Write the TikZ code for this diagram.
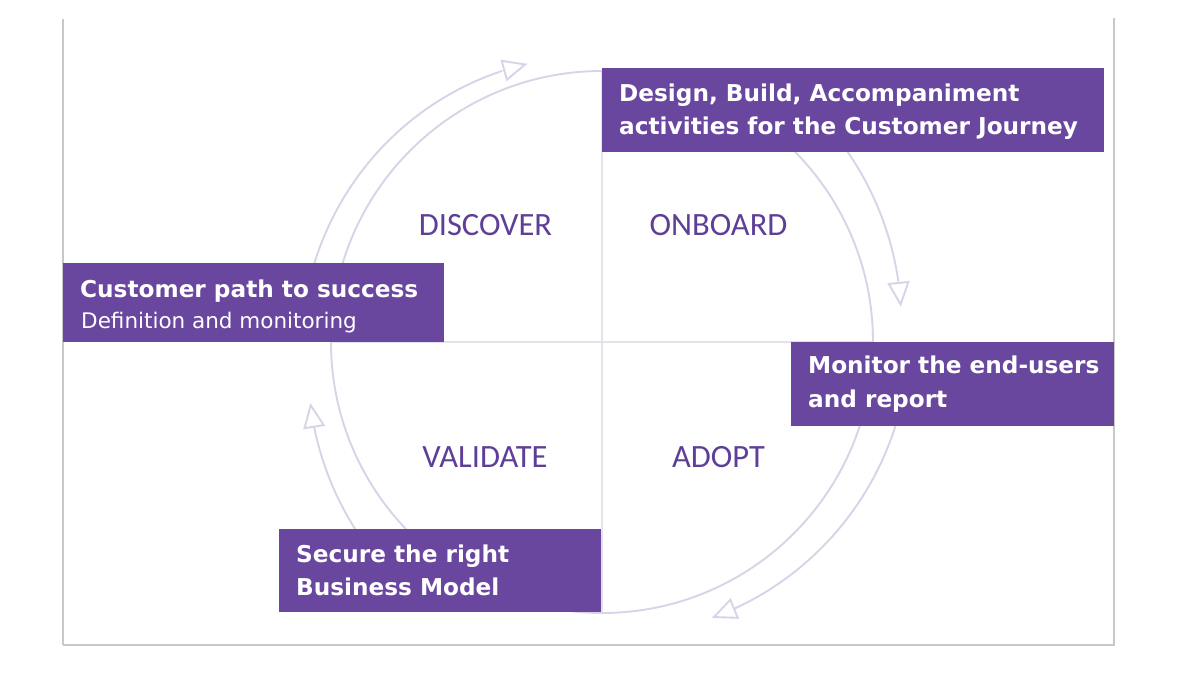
\documentclass[tikz,border=0pt]{standalone}
\usepackage{fontspec}
\setmainfont{DejaVu Sans}
\newfontfamily\phasefont{Carlito}
\usetikzlibrary{arrows.meta}
\definecolor{boxpurple}{HTML}{6A479F}
\definecolor{labpurple}{HTML}{5E3F97}
\definecolor{ringcol}{HTML}{D8D4E7}
\definecolor{crosscol}{HTML}{E3E1EA}
\definecolor{framecol}{HTML}{C8C8C8}
\begin{document}
\begin{tikzpicture}[x=1pt,y=1pt,
  pbox/.style={fill=boxpurple, draw=none, inner sep=0pt, anchor=north west},
  boxtitle/.style={text=white, inner sep=0pt, anchor=base west, font=\bfseries\fontsize{23.2}{33}\selectfont},
  boxsub/.style={text=white, inner sep=0pt, anchor=base west, font=\fontsize{21.5}{30}\selectfont},
  phase/.style={text=labpurple, inner sep=0pt, font=\phasefont\fontsize{32.5}{38}\selectfont},
  ring/.style={draw=ringcol, line width=1.9pt},
  cycarc/.style={draw=ringcol, line width=1.9pt},
  cyctip/.style={draw=ringcol, line width=1.9pt, -{Triangle[open, length=25pt, width=22pt, line width=1.9pt]}},
  crossline/.style={draw=crosscol, line width=1.5pt}]
\useasboundingbox (0,0) rectangle (1200,676);
\fill[white] (0,0) rectangle (1200,676);
% slide frame
\draw[framecol, line width=1.6pt] (63,657) -- (63,31);
\draw[framecol, line width=1.6pt] (1114,658) -- (1114,31);
\draw[framecol, line width=2.6pt] (63,31) -- (1114.8,31);
\coordinate (C) at (602,334);
% cross lines
\draw[crossline] (602,605) -- (602,63);
\draw[crossline] (331,334) -- (873,334);
% inner ring
\draw[ring] (C) circle[radius=271pt];
% outer cycle arrows (clockwise)
\draw[cycarc] plot[domain=178:110.2, samples=50, variable=\t]
  ({602+(300+12*(\t-175)/70)*cos(\t)}, {334+(300+12*(\t-175)/70)*sin(\t)});
\coordinate (tlb) at ({602+(300+12*(110-175)/70)*cos(110)}, {334+(300+12*(110-175)/70)*sin(110)});
\coordinate (tlt) at ({602+288*cos(105)}, {334+288*sin(105)});
\draw[cyctip] (tlb) -- (tlt);
\draw[cycarc] plot[domain=55:11.6, samples=50, variable=\t]
  ({602+(316+15*(\t-55)/48.3)*cos(\t)}, {334+(316+15*(\t-55)/48.3)*sin(\t)});
\coordinate (trb) at ({602+(316+15*(11.5-55)/48.3)*cos(11.5)}, {334+(316+15*(11.5-55)/48.3)*sin(11.5)});
\coordinate (trt) at ({602+301*cos(6.7)}, {334+301*sin(6.7)});
\draw[cyctip] (trb) -- (trt);
\draw[cycarc] plot[domain=-5:-63.5, samples=50, variable=\t]
  ({602+(307+10*(\t+5)/63.3)*cos(\t)}, {334+(307+10*(\t+5)/63.3)*sin(\t)});
\coordinate (brb) at ({602+(307+10*(-63.5+5)/63.3)*cos(-63.5)}, {334+(307+10*(-63.5+5)/63.3)*sin(-63.5)});
\coordinate (brt) at ({602+297*cos(-68.3)}, {334+297*sin(-68.3)});
\draw[cyctip] (brb) -- (brt);
\draw[cycarc] plot[domain=235:196.6, samples=50, variable=\t]
  ({602+(318+20*(\t-235)/43.2)*cos(\t)}, {334+(318+20*(\t-235)/43.2)*sin(\t)});
\coordinate (blb) at ({602+(318+20*(196.6-235)/43.2)*cos(196.6)}, {334+(318+20*(196.6-235)/43.2)*sin(196.6)});
\coordinate (blt) at ({602+298*cos(191.8)}, {334+298*sin(191.8)});
\draw[cyctip] (blb) -- (blt);
% phase labels
\node[phase] (discover) at (485.5,451) {DISCOVER};
\node[phase] (onboard) at (718.5,451) {ONBOARD};
\node[phase] (validate) at (485,219) {VALIDATE};
\node[phase] (adopt) at (718.5,219) {ADOPT};
% purple boxes
\node[pbox, minimum width=502pt, minimum height=84pt] (btop) at (602,608) {};
\node[pbox, minimum width=381pt, minimum height=79pt] (bleft) at (63,413) {};
\node[pbox, minimum width=323pt, minimum height=84pt] (bright) at (791,334) {};
\node[pbox, minimum width=322pt, minimum height=83pt] (bbottom) at (279,147) {};
% box texts
\node[boxtitle] (t1) at (619,574) {Design, Build, Accompaniment};
\node[boxtitle] (t2) at (619,541) {activities for the Customer Journey};
\node[boxtitle] (l1) at (80,378) {Customer path to success};
\node[boxsub] (l2) at (81,347) {Definition and monitoring};
\node[boxtitle] (r1) at (808,302) {Monitor the end-users};
\node[boxtitle] (r2) at (808,268) {and report};
\node[boxtitle] (s1) at (296,113) {Secure the right};
\node[boxtitle] (s2) at (296,80) {Business Model};
\end{tikzpicture}
\end{document}
